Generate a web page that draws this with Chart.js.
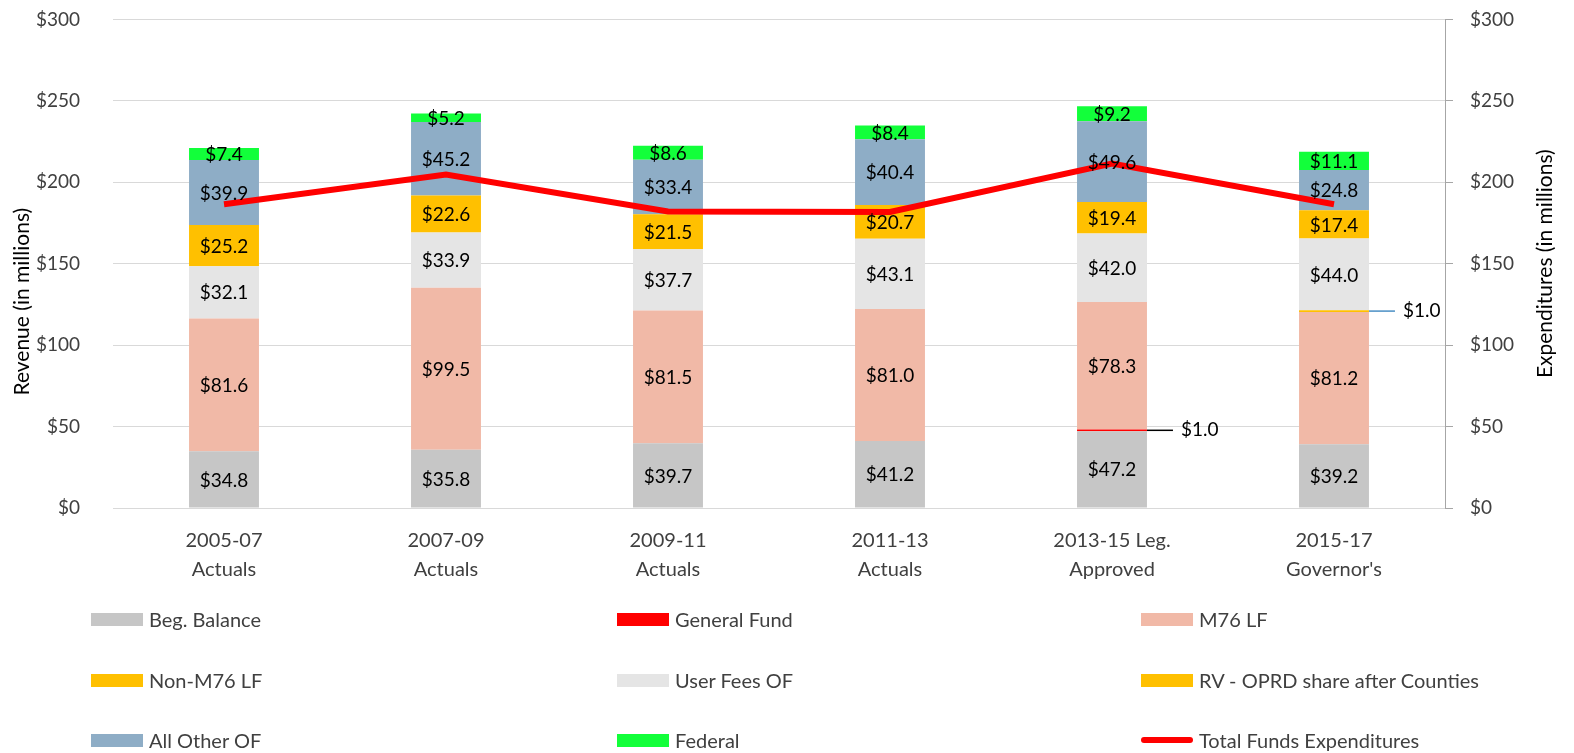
<!DOCTYPE html>
<html>
<head>
<meta charset="utf-8">
<script src="https://cdn.jsdelivr.net/npm/chart.js@4.4.1/dist/chart.umd.min.js"></script>
<style>
  body { margin: 0; background: #fff; overflow: hidden; }
  #wrap { position: relative; width: 1574px; height: 753px; overflow: hidden; }
  #myChart { position: absolute; left: 0; top: -25px; }
  #legend { position: absolute; left: 0; top: 0; width: 1574px; height: 753px; pointer-events: none; }
  .item { position: absolute; display: flex; align-items: center; font-family: Lato, sans-serif; font-size: 20px; color: #404040; }
  .box { width: 52px; height: 13px; margin-right: 6px; }
  .ln { width: 52px; height: 6px; border-radius: 3px; margin-right: 6px; }
</style>
</head>
<body>
<div id="wrap">
  <canvas id="myChart" width="1574" height="778"></canvas>
  <div id="legend"></div>
</div>
<script>
/* data (millions) */
const categories = [['2005-07', 'Actuals'], ['2007-09', 'Actuals'], ['2009-11', 'Actuals'],
                    ['2011-13', 'Actuals'], ['2013-15 Leg.', 'Approved'], ['2015-17', "Governor's"]];
const begBalance  = [34.8, 35.8, 39.7, 41.2, 47.2, 39.2];
const generalFund = [0, 0, 0, 0, 1.0, 0];
const m76LF       = [81.6, 99.5, 81.5, 81.0, 78.3, 81.2];
const nonM76LF    = [0, 0, 0, 0, 0, 1.0];
const userFeesOF  = [32.1, 33.9, 37.7, 43.1, 42.0, 44.0];
const rvShare     = [25.2, 22.6, 21.5, 20.7, 19.4, 17.4];
const allOtherOF  = [39.9, 45.2, 33.4, 40.4, 49.6, 24.8];
const federal     = [7.4, 5.2, 8.6, 8.4, 9.2, 11.1];
const totalExpenditures = [186.5, 204.8, 182.0, 181.8, 211.5, 186.5];
const axisMax = 300;
const axisStep = 50;

const FONT = 'Lato, sans-serif';

function bar(label, data, color, leader) {
  return { type: 'bar', label: label, data: data, backgroundColor: color,
           yAxisID: 'y', order: 1, leaderColor: leader || '#000' };
}

const data = {
  labels: categories,
  datasets: [
    bar('Beg. Balance', begBalance, '#C6C6C6'),
    bar('General Fund', generalFund, '#FF0000', '#000000'),
    bar('M76 LF', m76LF, '#F1B9A7'),
    bar('Non-M76 LF', nonM76LF, '#FFC000', '#4A8FC4'),
    bar('User Fees OF', userFeesOF, '#E5E5E5'),
    bar('RV - OPRD share after Counties', rvShare, '#FFC000'),
    bar('All Other OF', allOtherOF, '#8EADC6'),
    bar('Federal', federal, '#12FF3A'),
    {
      type: 'line', label: 'Total Funds Expenditures', data: totalExpenditures,
      borderColor: '#FF0000', backgroundColor: '#FF0000', borderWidth: 6,
      pointRadius: 0, tension: 0, yAxisID: 'y1', order: 0, isLine: true
    }
  ]
};

/* values inside the segments, tiny ones pulled out with a leader line */
const segLabels = {
  id: 'segLabels',
  afterDatasetsDraw(chart) {
    const ctx = chart.ctx;
    ctx.save();
    ctx.font = '19px ' + FONT;
    ctx.fillStyle = '#000';
    ctx.textBaseline = 'middle';
    chart.data.datasets.forEach(function(ds, i) {
      if (ds.type !== 'bar') return;
      chart.getDatasetMeta(i).data.forEach(function(el, j) {
        const v = ds.data[j];
        if (!v) return;
        const txt = '$' + v.toFixed(1);
        const cy = (el.y + el.base) / 2;
        if (v < 2) {
          const x0 = el.x + el.width / 2;
          ctx.strokeStyle = ds.leaderColor;
          ctx.lineWidth = 1.5;
          ctx.beginPath();
          ctx.moveTo(x0, cy);
          ctx.lineTo(x0 + 26, cy);
          ctx.stroke();
          ctx.textAlign = 'left';
          ctx.fillText(txt, x0 + 34, cy);
        } else {
          ctx.textAlign = 'center';
          ctx.fillText(txt, el.x, cy + 1);
        }
      });
    });
    ctx.restore();
  }
};

/* both axis titles read bottom-to-top */
function vTitle(ctx, text, x, y) {
  ctx.save();
  ctx.translate(x, y);
  ctx.rotate(-Math.PI / 2);
  ctx.font = '21px ' + FONT;
  ctx.fillStyle = '#000';
  ctx.textAlign = 'center';
  ctx.textBaseline = 'middle';
  ctx.fillText(text, 0, 0);
  ctx.restore();
}
const axisTitles = {
  id: 'axisTitles',
  afterDraw(chart) {
    const a = chart.chartArea;
    const mid = (a.top + a.bottom) / 2;
    vTitle(chart.ctx, 'Revenue (in millions)', 22, mid + 38);
    vTitle(chart.ctx, 'Expenditures (in millions)', 1545, mid);
  }
};

const config = {
  data: data,
  options: {
    responsive: false,
    animation: false,
    layout: { padding: { top: 20, left: 0, right: 0, bottom: 0 } },
    plugins: { legend: { display: false }, tooltip: { enabled: false } },
    scales: {
      x: {
        stacked: true,
        grid: { display: false, drawTicks: false },
        border: { color: '#D9D9D9' },
        ticks: { color: '#404040', font: { family: FONT, size: 20, lineHeight: 1.45 }, padding: 18, maxRotation: 0 },
        afterFit: function(s) { s.height = 245; }
      },
      y: {
        stacked: true, min: 0, max: axisMax,
        position: 'left',
        ticks: { stepSize: axisStep, color: '#404040', padding: 33,
                 font: { family: FONT, size: 19 },
                 callback: function(v) { return '$' + v; } },
        grid: { color: '#D9D9D9', drawTicks: false },
        border: { display: false },
        afterFit: function(s) { s.width = 113; }
      },
      y1: {
        min: 0, max: axisMax,
        position: 'right',
        ticks: { stepSize: axisStep, color: '#404040', padding: 17,
                 font: { family: FONT, size: 19 },
                 callback: function(v) { return '$' + v; } },
        grid: { drawOnChartArea: false, drawTicks: true, tickLength: 8, color: '#A6A6A6' },
        border: { display: true, color: '#A6A6A6' },
        afterFit: function(s) { s.width = 129; }
      }
    },
    datasets: { bar: { barPercentage: 0.315, categoryPercentage: 1 } }
  },
  plugins: [segLabels, axisTitles]
};

const myChart = new Chart(document.getElementById('myChart'), config);

/* legend: 3 columns x 3 rows like the original */
const legendEl = document.getElementById('legend');
const colX = [91, 617, 1141];
const rowY = [619, 680, 740];
myChart.data.datasets.forEach(function(ds, i) {
  const item = document.createElement('div');
  item.className = 'item';
  item.style.left = colX[i % 3] + 'px';
  item.style.top = (rowY[Math.floor(i / 3)] - 12) + 'px';
  item.style.height = '24px';
  const sw = document.createElement('span');
  sw.className = ds.isLine ? 'ln' : 'box';
  sw.style.background = ds.isLine ? ds.borderColor : ds.backgroundColor;
  item.appendChild(sw);
  item.appendChild(document.createTextNode(ds.label));
  legendEl.appendChild(item);
});
</script>
</body>
</html>
